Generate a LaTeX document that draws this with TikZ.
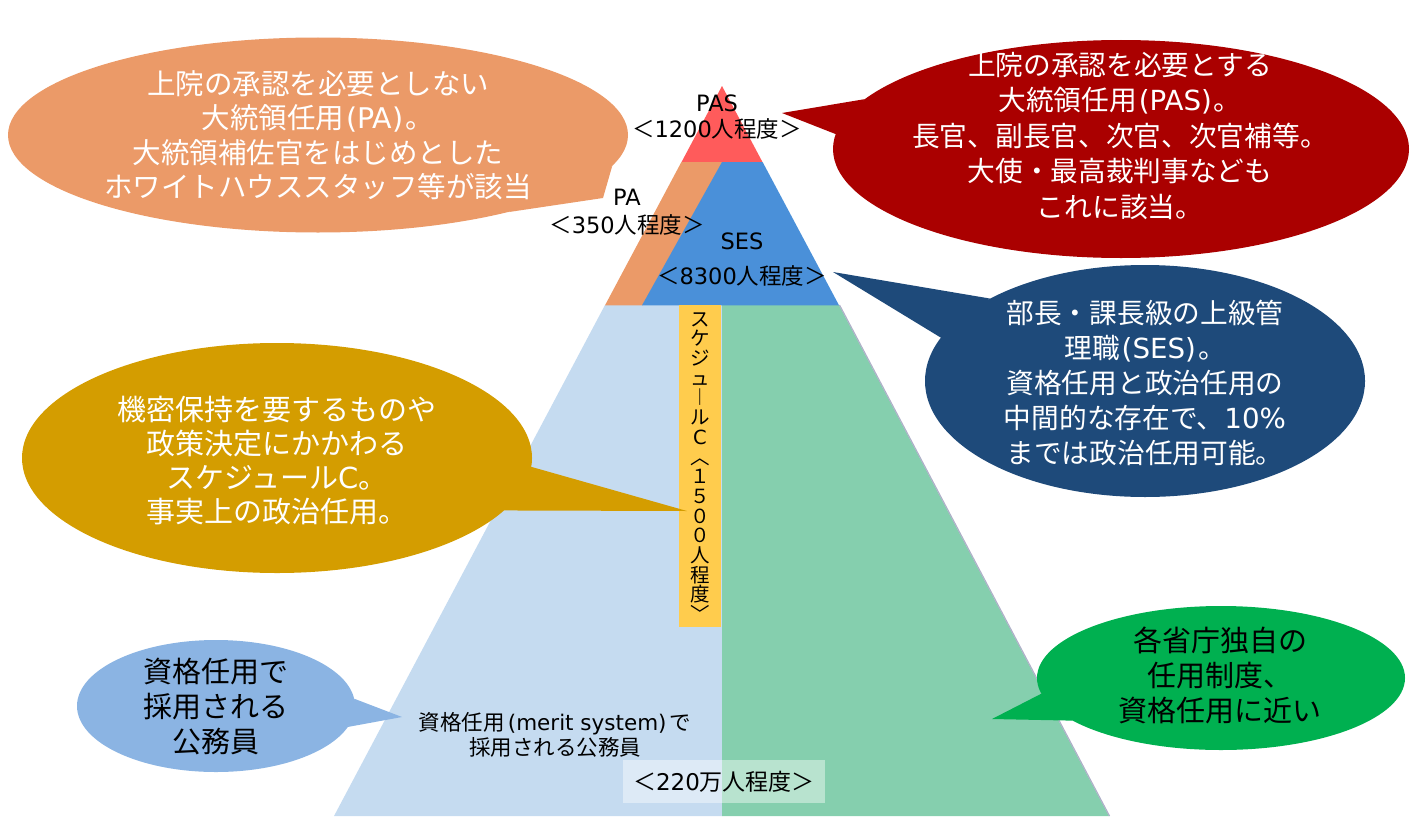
\documentclass[tikz,border=0pt]{standalone}
\usepackage{fontspec}
\setmainfont{Noto Sans CJK JP}
\newfontfamily\latn{DejaVu Sans}
\newcommand{\lp}{{\latn\kern2pt(}}
\newcommand{\rp}{{\latn)\kern2pt}}
\usetikzlibrary{shapes.geometric}
\definecolor{pasred}{HTML}{FF5B5B}
\definecolor{paorange}{HTML}{EB9A68}
\definecolor{sesblue}{HTML}{4A90D9}
\definecolor{baseblue}{HTML}{C5DBF0}
\definecolor{basegreen}{HTML}{85CFAE}
\definecolor{schedyellow}{HTML}{FFCC4D}
\definecolor{darkred}{HTML}{AA0000}
\definecolor{darkblue}{HTML}{1E4A7A}
\definecolor{goldc}{HTML}{D49D00}
\definecolor{skyblue}{HTML}{8BB4E3}
\definecolor{brightgreen}{HTML}{00B050}
\definecolor{edgegray}{HTML}{AEB0C8}
\begin{document}
\begin{tikzpicture}[x=1pt,y=-1pt,
  bubble/.style={ellipse, inner sep=0pt, draw=none},
  btext/.style={align=center, inner sep=0pt, font=\fontsize{28}{35}\selectfont},
  lbl/.style={align=center, inner sep=0pt}]
\useasboundingbox (0,0) rectangle (1415,816);
% ---------- pyramid ----------
\fill[baseblue] (605,305) -- (722.3,305) -- (722.3,816) -- (334,816) -- cycle;
\fill[basegreen] (722,305) -- (839,305) -- (1109,816) -- (722,816) -- cycle;
\draw[edgegray, line width=1.2pt] (839.5,305) -- (1109.5,816);
\fill[pasred] (722,86) -- (762.6,162.3) -- (681.4,162.3) -- cycle;
\fill[paorange] (681.4,162) -- (722.5,162) -- (642.5,305.3) -- (605,305.3) -- cycle;
\fill[sesblue] (722,162) -- (762.6,162) -- (839,305.3) -- (642,305.3) -- cycle;
\fill[schedyellow] (679,305) rectangle (721,627);
% ---------- callouts ----------
\coordinate (patip) at (603,198);
\coordinate (pastip) at (782,113);
\coordinate (sestip) at (833,272);
\coordinate (schtip) at (687,511);
\coordinate (merittip) at (402,717);
\coordinate (agtip) at (992,719);

\node[bubble, fill=paorange, minimum width=620pt, minimum height=195pt] (pab) at (318,135) {};
\fill[paorange] (pab.-6) -- (patip) -- (pab.-22) -- cycle;
\node[btext, text=white, font=\fontsize{28.5}{34.5}\selectfont] (pat) at (pab.center)
  {上院の承認を必要としない\\大統領任用\lp{\latn PA}\rp 。\\大統領補佐官をはじめとした\\ホワイトハウススタッフ等が該当};

\node[bubble, fill=darkred, minimum width=576pt, minimum height=218pt] (pasb) at (1121,149) {};
\fill[darkred] (pasb.169) -- (pastip) -- (pasb.177) -- cycle;
\node[btext, text=white, font=\fontsize{27.7}{35.5}\selectfont] (past) at (1120,136)
  {上院の承認を必要とする\\大統領任用\lp{\latn PAS}\rp 。\\長官、副長官、次官、次官補等。\\大使・最高裁判事なども\\これに該当。};

\node[bubble, fill=darkblue, minimum width=440pt, minimum height=232pt] (sesb) at (1145,381) {};
\fill[darkblue] (sesb.152) -- (sestip) -- (sesb.168) -- cycle;
\node[btext, text=white, font=\fontsize{27.7}{35}\selectfont] (sest) at (1145,383)
  {部長・課長級の上級管\\理職\lp{\latn SES}\rp 。\\資格任用と政治任用の\\中間的な存在で、{\latn 10\%}\\までは政治任用可能。};

\node[bubble, fill=goldc, minimum width=510pt, minimum height=230pt] (schb) at (277,458) {};
\fill[goldc] (schb.-2) -- (schtip) -- (schb.-13) -- cycle;
\node[btext, text=white, font=\fontsize{29}{34}\selectfont] (scht) at (277,461)
  {機密保持を要するものや\\政策決定にかかわる\\スケジュール{\latn C}。\\事実上の政治任用。};

\node[bubble, fill=skyblue, minimum width=278pt, minimum height=132pt] (meritb) at (216,706) {};
\fill[skyblue] (meritb.3) -- (merittip) -- (meritb.-9) -- cycle;
\node[btext, text=black, font=\fontsize{29}{35}\selectfont] (meritt) at (216,707)
  {資格任用で\\採用される\\公務員};

\node[bubble, fill=brightgreen, minimum width=368pt, minimum height=144pt] (agb) at (1221,678) {};
\fill[brightgreen] (agb.185) -- (agtip) -- (agb.196) -- cycle;
\node[btext, text=black, font=\fontsize{29}{35}\selectfont] (agt) at (1220,675)
  {各省庁独自の\\任用制度、\\資格任用に近い};
% ---------- pyramid labels ----------
\node[lbl, font=\fontsize{22.5}{26}\selectfont] (paslbl) at (717,117) {{\latn PAS}\\＜{\latn 1200}人程度＞};
\node[lbl, font=\fontsize{22.5}{28}\selectfont] (palbl) at (627,212) {{\latn PA}\\＜{\latn 350}人程度＞};
\node[lbl, font=\fontsize{22.5}{35}\selectfont] (seslbl) at (742,260) {{\latn SES}\\＜{\latn 8300}人程度＞};
\node[lbl, font=\fontsize{19.5}{19.7}\selectfont] (schlbl) at (700,467)
  {ス\\ケ\\ジ\\ュ\\︱\\ル\\{\latn C}\\︿\\１\\５\\０\\０\\人\\程\\度\\﹀};
\node[lbl, font=\fontsize{21.5}{25}\selectfont] (meritlbl) at (555,735)
  {資格任用{\latn\kern3pt(merit system)\kern3pt}で\\採用される公務員};
\node[lbl, fill=white, fill opacity=0.42, text opacity=1, minimum width=202pt, minimum height=43pt,
  font=\fontsize{23}{26}\selectfont] (totallbl) at (724,781.5) {＜{\latn 220}万人程度＞};
\end{tikzpicture}
\end{document}
